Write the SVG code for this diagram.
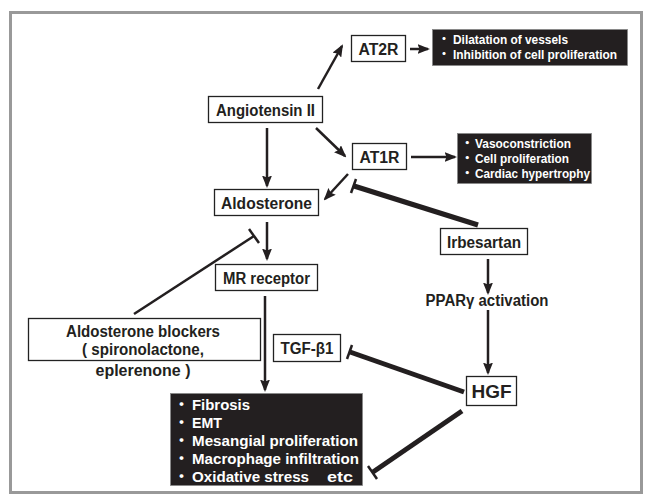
<svg xmlns="http://www.w3.org/2000/svg" width="645" height="495" viewBox="0 0 645 495">
<style>
.box{fill:#fff;stroke:#222;stroke-width:1.3}
.blk{fill:#231f20;stroke:#888;stroke-width:0.8}
.t{font-family:"Liberation Sans",Arial,sans-serif;font-weight:bold;font-size:16px;fill:#231f20;text-anchor:middle}
.w{font-family:"Liberation Sans","Noto Sans CJK JP",Arial,sans-serif;font-weight:bold;fill:#fff}
.ln{stroke:#231f20;stroke-width:2.5;fill:none}
.th{stroke:#231f20;stroke-width:5;fill:none}
</style>
<defs>
<marker id="ah" markerWidth="5" markerHeight="4" refX="4.2" refY="2" orient="auto" markerUnits="strokeWidth">
<path d="M0,0 L5,2 L0,4 L0.8,2 Z" fill="#231f20"/>
</marker>
</defs>
<rect x="10.5" y="12.5" width="631" height="480" fill="#fff" stroke="#999" stroke-width="3"/>

<g id="connectors">
<line class="ln" x1="318" y1="89" x2="342" y2="46" marker-end="url(#ah)"/>
<line class="ln" x1="410" y1="49" x2="428" y2="49" marker-end="url(#ah)"/>
<line class="ln" x1="316" y1="128" x2="345" y2="156" marker-end="url(#ah)"/>
<line class="ln" x1="411" y1="157" x2="455" y2="157" stroke-width="3" marker-end="url(#ah)"/>
<line class="ln" x1="267" y1="128" x2="267" y2="186" marker-end="url(#ah)"/>
<line class="ln" x1="348" y1="174" x2="325" y2="199" marker-end="url(#ah)"/>
<line class="ln" x1="267" y1="222" x2="267" y2="259" marker-end="url(#ah)"/>
<line class="ln" x1="265" y1="296" x2="265" y2="390" marker-end="url(#ah)"/>
<line class="ln" x1="488" y1="259" x2="488" y2="293" marker-end="url(#ah)"/>
<line class="ln" x1="488" y1="310" x2="488" y2="373" marker-end="url(#ah)"/>
<line class="th" x1="478" y1="225" x2="354" y2="186"/>
<line class="ln" x1="351" y1="193" x2="356" y2="179"/>
<line class="ln" x1="134" y1="314" x2="254" y2="236"/>
<line class="ln" x1="249" y1="229" x2="259" y2="243"/>
<line class="th" x1="464" y1="392" x2="350" y2="352"/>
<line class="ln" x1="347" y1="359" x2="352" y2="345"/>
<line class="th" x1="462" y1="411" x2="373" y2="472"/>
<line class="ln" x1="368" y1="466" x2="377" y2="479"/>
</g>

<g id="n-ang"><rect class="box" x="208.5" y="96.5" width="114" height="26"/><text class="t" x="265.5" y="115.5" textLength="99" lengthAdjust="spacingAndGlyphs">Angiotensin II</text></g>
<g id="n-at2r"><rect class="box" x="351.5" y="35.5" width="54" height="26"/><text class="t" x="378.5" y="54.5" textLength="40" lengthAdjust="spacingAndGlyphs">AT2R</text></g>
<g id="n-at1r"><rect class="box" x="352.5" y="143.5" width="54" height="26"/><text class="t" x="379.5" y="162.5" textLength="40" lengthAdjust="spacingAndGlyphs">AT1R</text></g>
<g id="n-ald"><rect class="box" x="214.5" y="189.5" width="104" height="26"/><text class="t" x="266.5" y="208.5" textLength="91" lengthAdjust="spacingAndGlyphs">Aldosterone</text></g>
<g id="n-irb"><rect class="box" x="440.5" y="228.5" width="87" height="26"/><text class="t" x="484" y="247.5" textLength="74" lengthAdjust="spacingAndGlyphs">Irbesartan</text></g>
<g id="n-mr"><rect class="box" x="215.5" y="264.5" width="102" height="26"/><text class="t" x="266.5" y="283.5" textLength="87" lengthAdjust="spacingAndGlyphs">MR receptor</text></g>
<g id="n-ppar"><text class="t" x="487" y="306" textLength="123" lengthAdjust="spacingAndGlyphs">PPARγ activation</text></g>
<g id="n-blk"><rect class="box" x="28.5" y="318.5" width="232" height="42"/>
<text class="t" x="143" y="337" textLength="154" lengthAdjust="spacingAndGlyphs">Aldosterone blockers</text>
<text class="t" x="143" y="355" textLength="122" lengthAdjust="spacingAndGlyphs">( spironolactone,</text>
<text class="t" x="143" y="376" textLength="95" lengthAdjust="spacingAndGlyphs">eplerenone )</text></g>
<g id="n-tgf"><rect class="box" x="273.5" y="334.5" width="67" height="27"/><text class="t" x="307" y="353.5" textLength="53" lengthAdjust="spacingAndGlyphs">TGF-β1</text></g>
<g id="n-hgf"><rect class="box" x="466.5" y="376.5" width="50" height="29"/><text class="t" x="491.5" y="398" style="font-size:19px">HGF</text></g>

<g id="n-eff2">
<rect class="blk" x="432.5" y="29.5" width="195" height="36"/>
<text class="w" font-size="12"><tspan x="438" y="44">・</tspan><tspan x="453" y="44" textLength="115" lengthAdjust="spacingAndGlyphs">Dilatation of vessels</tspan></text>
<text class="w" font-size="12"><tspan x="438" y="59">・</tspan><tspan x="453" y="59" textLength="164" lengthAdjust="spacingAndGlyphs">Inhibition of cell proliferation</tspan></text>
</g>
<g id="n-eff1">
<rect class="blk" x="457.5" y="133.5" width="134" height="50"/>
<text class="w" font-size="12.5"><tspan x="461" y="148">・</tspan><tspan x="475" y="148" textLength="96" lengthAdjust="spacingAndGlyphs">Vasoconstriction</tspan></text>
<text class="w" font-size="12.5"><tspan x="461" y="163">・</tspan><tspan x="475" y="163" textLength="94" lengthAdjust="spacingAndGlyphs">Cell proliferation</tspan></text>
<text class="w" font-size="12.5"><tspan x="461" y="178">・</tspan><tspan x="475" y="178" textLength="115" lengthAdjust="spacingAndGlyphs">Cardiac hypertrophy</tspan></text>
</g>
<g id="n-eff3">
<rect class="blk" x="170.5" y="393.5" width="192" height="92"/>
<text class="w" font-size="15"><tspan x="174" y="410">・</tspan><tspan x="192" y="410" textLength="58" lengthAdjust="spacingAndGlyphs">Fibrosis</tspan></text>
<text class="w" font-size="15"><tspan x="174" y="428">・</tspan><tspan x="192" y="428" textLength="30" lengthAdjust="spacingAndGlyphs">EMT</tspan></text>
<text class="w" font-size="15"><tspan x="174" y="446">・</tspan><tspan x="192" y="446" textLength="166" lengthAdjust="spacingAndGlyphs">Mesangial proliferation</tspan></text>
<text class="w" font-size="15"><tspan x="174" y="464">・</tspan><tspan x="192" y="464" textLength="167" lengthAdjust="spacingAndGlyphs">Macrophage infiltration</tspan></text>
<text class="w" font-size="15"><tspan x="174" y="482">・</tspan><tspan x="192" y="482" textLength="117" lengthAdjust="spacingAndGlyphs">Oxidative stress</tspan><tspan x="327" y="482" textLength="26" lengthAdjust="spacingAndGlyphs">etc</tspan></text>
</g>
</svg>
